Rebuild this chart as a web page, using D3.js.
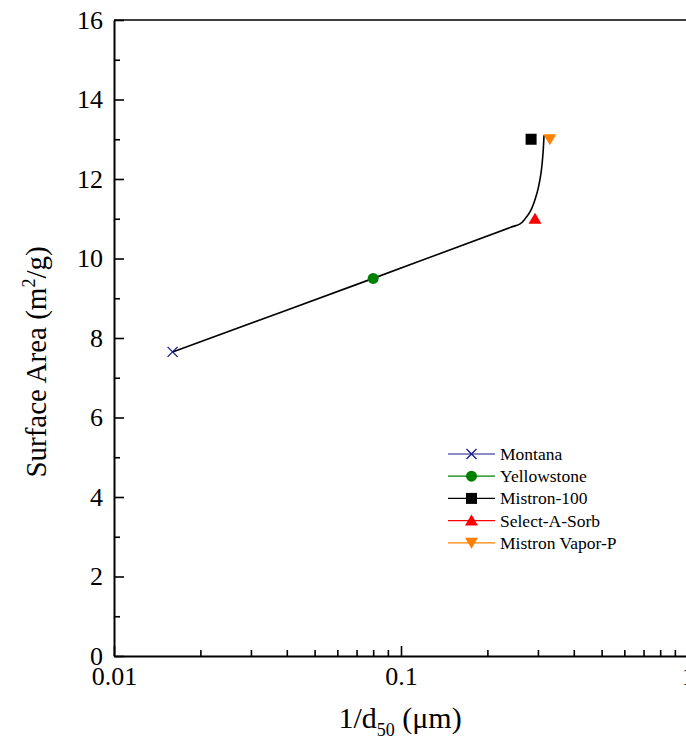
<!DOCTYPE html>
<html>
<head>
<meta charset="utf-8">
<script src="https://cdn.jsdelivr.net/npm/d3@7"></script>
<style>
  body { margin: 0; background: #fff; }
  text { font-family: "Liberation Serif", "Times New Roman", serif; }
</style>
</head>
<body>
<svg id="chart" width="686" height="756"></svg>
<script>
// samples (1/d50 in 1/um, surface area in m2/g)
const names = ["Montana", "Yellowstone", "Mistron-100", "Select-A-Sorb", "Mistron Vapor-P"];
const invD50 = [0.016, 0.08, 0.284, 0.293, 0.33];
const area = [7.65, 9.5, 13.0, 11.0, 13.0];
const colors = ["#1a1a8c", "#008000", "#000000", "#ff0000", "#ff8000"];
const shapes = ["cross", "circle", "square", "triangle", "triangleDown"];

// fitted trend curve
const fitX = [0.016, 0.08, 0.24, 0.26, 0.27, 0.2815, 0.2978, 0.3075, 0.3125, 0.315];
const fitY = [7.65, 9.5, 10.78, 10.87, 10.99, 11.17, 11.65, 12.15, 12.65, 13.1];

const xMajor = [0.01, 0.1, 1];
const xMinor = [0.02, 0.03, 0.04, 0.05, 0.06, 0.07, 0.08, 0.09, 0.2, 0.3, 0.4, 0.5, 0.6, 0.7, 0.8, 0.9];
const yMajor = [0, 2, 4, 6, 8, 10, 12, 14, 16];
const yMinor = [1, 3, 5, 7, 9, 11, 13, 15];

const svg = d3.select("#chart");
const x = d3.scaleLog().domain([0.01, 1]).range([114, 688]);
const y = d3.scaleLinear().domain([0, 16]).range([656, 20]);

// frame top line
svg.append("line")
    .attr("x1", x(0.01)).attr("x2", x(1))
    .attr("y1", y(16)).attr("y2", y(16))
    .attr("stroke", "#000").attr("stroke-width", 1.5);

// x axis
const gx = svg.append("g").attr("transform", "translate(0," + y(0) + ")");
gx.call(d3.axisBottom(x).tickValues(xMajor).tickSizeInner(-10).tickSizeOuter(0)
    .tickPadding(11).tickFormat(d3.format("")));
gx.append("g").call(d3.axisBottom(x).tickValues(xMinor).tickSizeInner(-6).tickSizeOuter(0)
    .tickFormat(""))
  .select(".domain").remove();

// y axis
const gy = svg.append("g").attr("transform", "translate(" + x(0.01) + ",0)");
gy.call(d3.axisLeft(y).tickValues(yMajor).tickSizeInner(-10).tickSizeOuter(0)
    .tickPadding(11).tickFormat(d3.format("d")));
gy.append("g").call(d3.axisLeft(y).tickValues(yMinor).tickSizeInner(-6).tickSizeOuter(0)
    .tickFormat(""))
  .select(".domain").remove();

svg.selectAll(".domain").attr("stroke-width", 2);
svg.selectAll(".tick line").attr("stroke-width", 1.6);
svg.selectAll(".tick text")
    .style("font-size", "26px")
    .style("font-family", "'Liberation Serif', serif")
    .attr("fill", "#000");

// axis titles
const xt = svg.append("text")
    .attr("x", 400).attr("y", 728)
    .attr("text-anchor", "middle").style("font-size", "30px");
xt.append("tspan").text("1/d");
xt.append("tspan").style("font-size", "18px").attr("dy", 8).text("50");
xt.append("tspan").attr("dy", -8).text(" (\u03bcm)");

const yt = svg.append("text")
    .attr("transform", "translate(46,362) rotate(-90)")
    .attr("text-anchor", "middle").style("font-size", "29px");
yt.append("tspan").text("Surface Area (m");
yt.append("tspan").style("font-size", "18px").attr("dy", -11).text("2");
yt.append("tspan").attr("dy", 11).text("/g)");

// fit curve
const fit = fitX.map((v, i) => [v, fitY[i]]);
svg.append("path")
    .datum(fit)
    .attr("fill", "none").attr("stroke", "#000").attr("stroke-width", 1.6)
    .attr("d", d3.line().x(d => x(d[0])).y(d => y(d[1])).curve(d3.curveCatmullRom.alpha(0.5)));

// markers
function marker(g, shape, color) {
  if (shape === "cross") {
    g.append("path").attr("d", "M-5,-5L5,5M-5,5L5,-5")
      .attr("stroke", color).attr("stroke-width", 1.3).attr("fill", "none");
  } else if (shape === "circle") {
    g.append("circle").attr("r", 5.5).attr("fill", color);
  } else if (shape === "square") {
    g.append("rect").attr("x", -5.5).attr("y", -5.5).attr("width", 11).attr("height", 11).attr("fill", color);
  } else if (shape === "triangle") {
    g.append("path").attr("d", "M0,-6L6.5,5L-6.5,5Z").attr("fill", color);
  } else {
    g.append("path").attr("d", "M0,6L6.5,-5L-6.5,-5Z").attr("fill", color);
  }
}

names.forEach((n, i) => {
  const g = svg.append("g").attr("transform", "translate(" + x(invD50[i]) + "," + y(area[i]) + ")");
  marker(g, shapes[i], colors[i]);
});

// legend
const leg = svg.append("g").attr("transform", "translate(448,454)");
names.forEach((n, i) => {
  const row = leg.append("g").attr("transform", "translate(0," + (i * 22.2) + ")");
  row.append("line").attr("x1", 0).attr("x2", 47).attr("stroke", colors[i]).attr("stroke-width", 1.2);
  const m = row.append("g").attr("transform", "translate(23.5,0)");
  marker(m, shapes[i], colors[i]);
  row.append("text").attr("x", 52).attr("y", 6).style("font-size", "17.5px").text(n);
});
</script>
</body>
</html>
